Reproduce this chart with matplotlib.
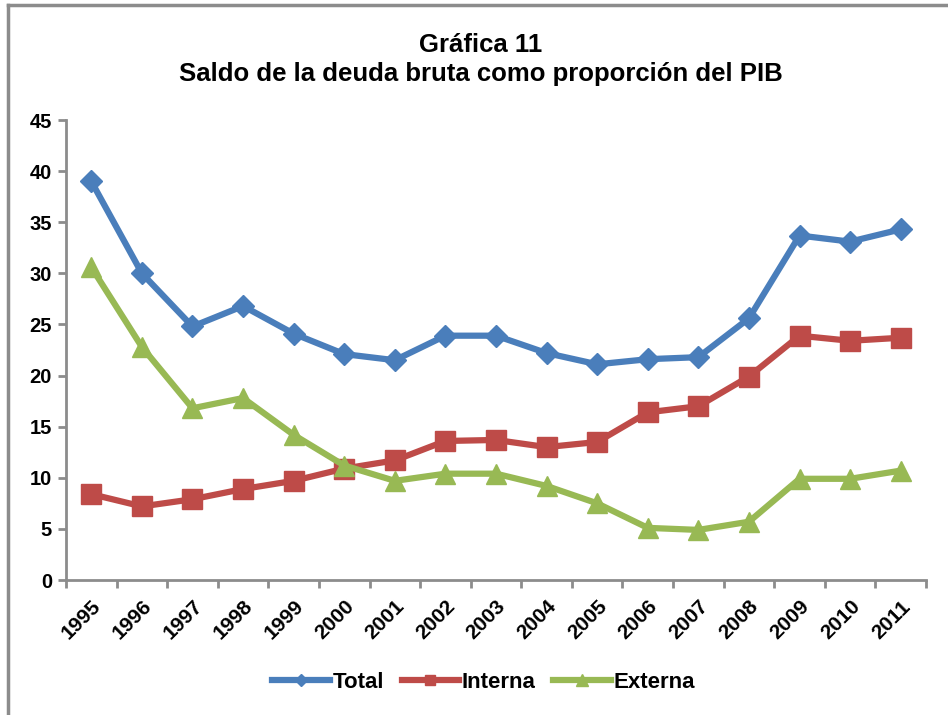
import matplotlib.pyplot as plt
from matplotlib.lines import Line2D

years = [str(y) for y in range(1995, 2012)]
total = [39.0, 30.0, 24.8, 26.8, 24.1, 22.1, 21.5, 23.9, 23.9, 22.2,
         21.1, 21.6, 21.8, 25.6, 33.7, 33.1, 34.3]
interna = [8.4, 7.2, 7.9, 8.9, 9.7, 10.9, 11.7, 13.6, 13.7, 13.0,
           13.5, 16.4, 17.0, 19.9, 23.9, 23.4, 23.7]
externa = [30.6, 22.8, 16.8, 17.8, 14.2, 11.2, 9.7, 10.4, 10.4, 9.2,
           7.5, 5.1, 4.9, 5.7, 9.9, 9.9, 10.7]

plt.rcParams['font.family'] = ['Liberation Sans', 'DejaVu Sans']
plt.rcParams['font.weight'] = 'bold'

fig = plt.figure(figsize=(9.48, 7.15), dpi=100)
ax = fig.add_axes([66 / 948, 135 / 715, 860 / 948, 460 / 715])

# outer frame (only top and left edges visible in the original)
fig.add_artist(Line2D([7.5 / 948, 7.5 / 948], [0, 1 - 5 / 715], color='#8c8c8c', lw=2.5,
                      transform=fig.transFigure))
fig.add_artist(Line2D([7.5 / 948, 1], [1 - 5 / 715, 1 - 5 / 715], color='#8c8c8c', lw=2.5,
                      transform=fig.transFigure))

x = list(range(len(years)))
ax.plot(x, total, color='#4A7EBB', lw=4.5, marker='D', ms=11, label='Total')
ax.plot(x, interna, color='#BE4B48', lw=4.5, marker='s', ms=14, label='Interna')
ax.plot(x, externa, color='#98B954', lw=4.5, marker='^', ms=15, label='Externa')

ax.set_xlim(-0.5, len(years) - 0.5)
ax.set_ylim(0, 45)
ax.set_yticks(range(0, 46, 5))
ax.set_yticklabels([str(v) for v in range(0, 46, 5)], fontsize=14.5, fontweight='bold')

ax.set_xticks(x)
ax.set_xticklabels(years, rotation=45, ha='right', rotation_mode='anchor',
                   fontsize=15, fontweight='bold')
ax.tick_params(axis='x', which='major', length=0, pad=12)
ax.set_xticks([i - 0.5 for i in range(len(years) + 1)], minor=True)
ax.tick_params(axis='x', which='minor', length=6, width=2, color='#8c8c8c')
ax.tick_params(axis='y', length=6, width=2, color='#8c8c8c', pad=4)

for side in ['top', 'right']:
    ax.spines[side].set_visible(False)
for side in ['left', 'bottom']:
    ax.spines[side].set_color('#8c8c8c')
    ax.spines[side].set_linewidth(2)

fig.text(0.507, 1 - 45 / 715, 'Gráfica 11', ha='center', va='center',
         fontsize=18.5, fontweight='bold')
fig.text(0.507, 1 - 74 / 715, 'Saldo de la deuda bruta como proporción del PIB',
         ha='center', va='center', fontsize=18.5, fontweight='bold')

fig.legend(loc='center', bbox_to_anchor=(0.51, 1 - 682 / 715), ncol=3, frameon=False,
           prop={'size': 16, 'weight': 'bold'}, handlelength=2.6, handletextpad=0.1,
           columnspacing=0.8, markerscale=0.55)

fig.savefig('out.png', dpi=100)
